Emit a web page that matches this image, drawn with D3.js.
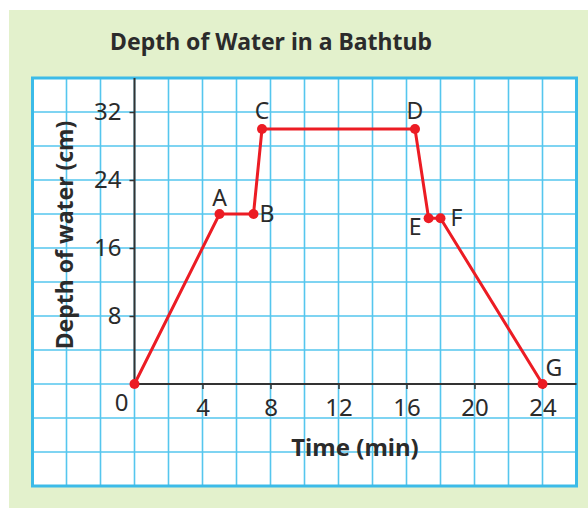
<!DOCTYPE html>
<html>
<head>
<meta charset="utf-8">
<script src="https://cdn.jsdelivr.net/npm/d3@7"></script>
<style>
  html, body { margin: 0; padding: 0; background: #fff; }
  text { font-family: "Noto Sans", "Open Sans", sans-serif; fill: #2b2b2b; }
</style>
</head>
<body>
<svg id="chart" width="588" height="508"></svg>
<script>
// data
const pointNames = ['', 'A', 'B', 'C', 'D', 'E', 'F', 'G'];
const times = [0, 5, 7, 7.5, 16.5, 17.3, 18, 24];      // min
const depths = [0, 20, 20, 30, 30, 19.5, 19.5, 0];     // cm
const xTicks = [4, 8, 12, 16, 20, 24];
const yTicks = [8, 16, 24, 32];

const svg = d3.select('#chart');

// light green panel
svg.append('rect')
    .attr('x', 9).attr('y', 10)
    .attr('width', 579).attr('height', 498)
    .attr('fill', '#e3f1cc');

// grid spans -6..26 min and -12..36 cm
const x = d3.scaleLinear().domain([-6, 26]).range([32.5, 576.5]);
const y = d3.scaleLinear().domain([-12, 36]).range([486, 78]);

svg.append('rect')
    .attr('x', x(-6)).attr('y', y(36))
    .attr('width', x(26) - x(-6)).attr('height', y(-12) - y(36))
    .attr('fill', '#fff');

const grid = svg.append('g').attr('stroke', '#55c6ee').attr('stroke-width', 1.6);
grid.selectAll('line.v')
    .data(d3.range(-4, 26, 2))
    .join('line')
    .attr('class', 'v')
    .attr('x1', d => x(d)).attr('x2', d => x(d))
    .attr('y1', y(36)).attr('y2', y(-12));
grid.selectAll('line.h')
    .data(d3.range(-8, 36, 4))
    .join('line')
    .attr('class', 'h')
    .attr('y1', d => y(d)).attr('y2', d => y(d))
    .attr('x1', x(-6)).attr('x2', x(26));

// outer border
svg.append('rect')
    .attr('x', x(-6)).attr('y', y(36))
    .attr('width', x(26) - x(-6)).attr('height', y(-12) - y(36))
    .attr('fill', 'none')
    .attr('stroke', '#3cbbe8')
    .attr('stroke-width', 3);

// axes
const xAxis = d3.axisBottom(x).tickValues(xTicks).tickSize(5).tickPadding(10);
const yAxis = d3.axisLeft(y).tickValues(yTicks).tickSize(5).tickPadding(8);

const gx = svg.append('g').attr('transform', `translate(0,${y(0)})`).call(xAxis);
const gy = svg.append('g').attr('transform', `translate(${x(0)},0)`).call(yAxis);
[gx, gy].forEach(g => {
    g.select('.domain').remove();
    g.selectAll('.tick line').attr('stroke', '#333').attr('stroke-width', 1.5);
    g.selectAll('.tick text')
        .attr('fill', '#2b2b2b')
        .style('font-size', '24px')
        .style('font-family', '"Noto Sans", sans-serif');
});

svg.append('line')
    .attr('x1', x(0)).attr('x2', x(26))
    .attr('y1', y(0)).attr('y2', y(0))
    .attr('stroke', '#333').attr('stroke-width', 2);
svg.append('line')
    .attr('x1', x(0)).attr('x2', x(0))
    .attr('y1', y(36)).attr('y2', y(0) + 4)
    .attr('stroke', '#333').attr('stroke-width', 2);

svg.append('text')
    .attr('x', x(0) - 13).attr('y', y(0) + 27)
    .attr('text-anchor', 'middle')
    .style('font-size', '24px')
    .text('0');

// titles
svg.append('text')
    .attr('x', 271).attr('y', 50)
    .attr('text-anchor', 'middle')
    .style('font-size', '23px').style('font-weight', 'bold')
    .text('Depth of Water in a Bathtub');

svg.append('text')
    .attr('x', 355).attr('y', 456)
    .attr('text-anchor', 'middle')
    .style('font-size', '24px').style('font-weight', 'bold')
    .text('Time (min)');

svg.append('text')
    .attr('transform', 'translate(73,235) rotate(-90)')
    .attr('text-anchor', 'middle')
    .style('font-size', '23px').style('font-weight', 'bold')
    .text('Depth of water (cm)');

// the depth line
const pts = times.map((t, i) => ({ name: pointNames[i], t, d: depths[i] }));
const line = d3.line().x(p => x(p.t)).y(p => y(p.d));

svg.append('path')
    .datum(pts)
    .attr('d', line)
    .attr('fill', 'none')
    .attr('stroke', '#ec1c24')
    .attr('stroke-width', 3)
    .attr('stroke-linejoin', 'round');

svg.selectAll('circle.pt')
    .data(pts)
    .join('circle')
    .attr('class', 'pt')
    .attr('cx', p => x(p.t)).attr('cy', p => y(p.d))
    .attr('r', 5)
    .attr('fill', '#ec1c24');

// label placement around each point
const labelPos = {
    A: { dx: 0, dy: -8, anchor: 'middle' },
    B: { dx: 6, dy: 8, anchor: 'start' },
    C: { dx: 0, dy: -10, anchor: 'middle' },
    D: { dx: 0, dy: -10, anchor: 'middle' },
    E: { dx: -7, dy: 17, anchor: 'end' },
    F: { dx: 10, dy: 8, anchor: 'start' },
    G: { dx: 3, dy: -8, anchor: 'start' }
};

svg.selectAll('text.lbl')
    .data(pts.filter(p => p.name))
    .join('text')
    .attr('class', 'lbl')
    .attr('x', p => x(p.t) + labelPos[p.name].dx)
    .attr('y', p => y(p.d) + labelPos[p.name].dy)
    .attr('text-anchor', p => labelPos[p.name].anchor)
    .style('font-size', '23px')
    .text(p => p.name);
</script>
</body>
</html>
